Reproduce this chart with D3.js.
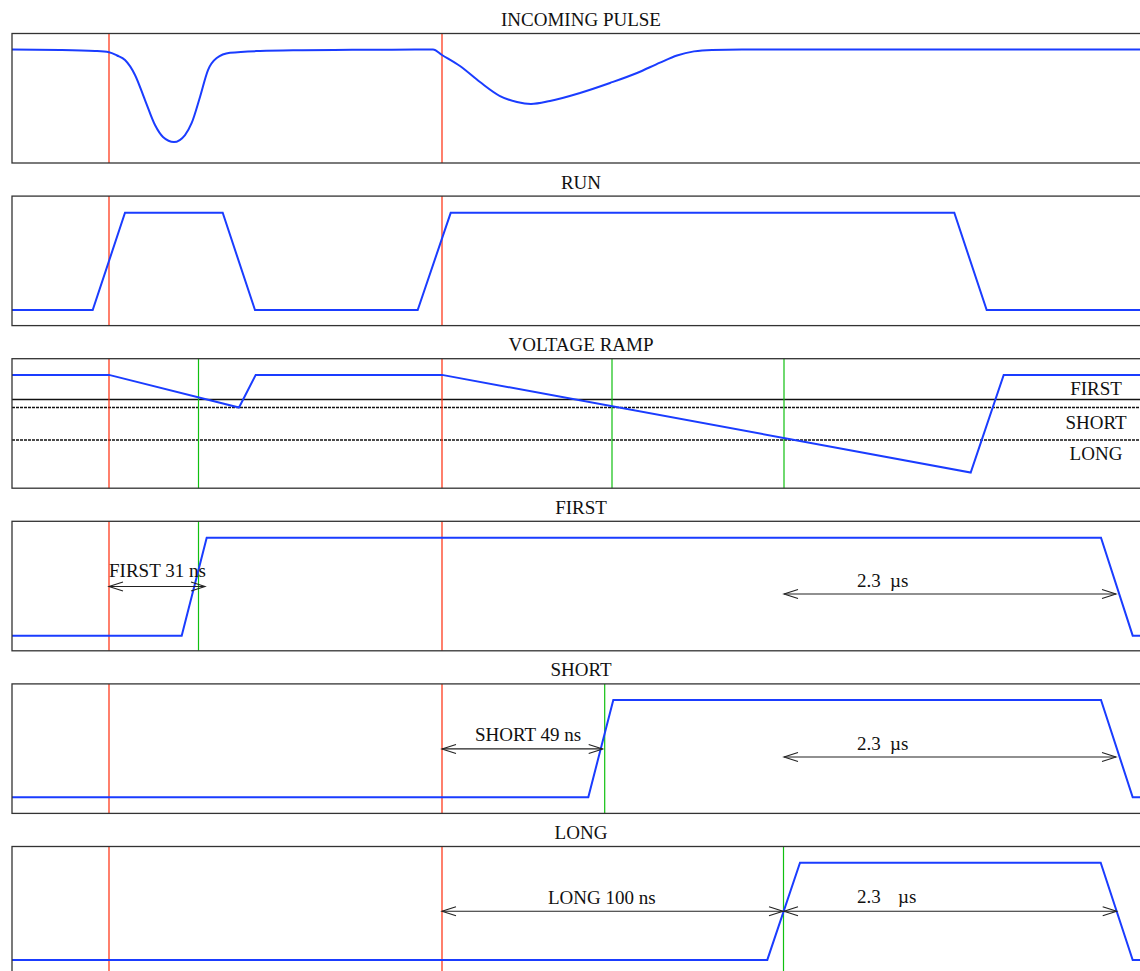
<!DOCTYPE html>
<html>
<head>
<meta charset="utf-8">
<script src="https://cdn.jsdelivr.net/npm/d3@7"></script>
<style>
  body { margin: 0; background: #fff; }
  svg { display: block; }
  text { font-family: "Liberation Serif", "Times New Roman", serif; fill: #111; }
</style>
</head>
<body>
<svg id="timing-svg"></svg>
<script>
const width = 1140;
const height = 971;

// Panel titles, top to bottom
const panelTitles = ["INCOMING PULSE", "RUN", "VOLTAGE RAMP", "FIRST", "SHORT", "LONG"];

// Time axis (arbitrary units) and signal levels (0 = panel bottom, 1 = panel top)
const pulseT = [0, 48, 83, 97, 105, 113, 123, 133, 143, 151, 162, 173, 179.7, 188, 196, 204.7, 218, 248, 290, 340, 380, 421,
  430, 448, 468, 488, 505, 519, 538, 568, 598, 625, 648, 665, 682, 700, 730, 800, 900, 1000, 1138];
const pulseV = [0.876, 0.873, 0.865, 0.855, 0.830, 0.795, 0.680, 0.486, 0.293, 0.201, 0.162, 0.216, 0.309, 0.510, 0.718, 0.811, 0.851, 0.865, 0.871, 0.874, 0.875, 0.876,
  0.834, 0.749, 0.625, 0.517, 0.471, 0.456, 0.479, 0.541, 0.618, 0.695, 0.775, 0.830, 0.862, 0.873, 0.876, 0.876, 0.876, 0.876, 0.876];

const runT = [0, 80.7, 113, 210.7, 243, 405.7, 438.7, 942.3, 974.7, 1138];
const runV = [0.12, 0.12, 0.871, 0.871, 0.12, 0.12, 0.871, 0.871, 0.12, 0.12];

const rampT = [0, 97, 227, 243.7, 430, 958.7, 991.7, 1138];
const rampV = [0.875, 0.875, 0.623, 0.875, 0.875, 0.121, 0.875, 0.875];

const firstT = [0, 169.7, 194.7, 1089, 1120.7, 1138];
const firstV = [0.117, 0.117, 0.873, 0.873, 0.117, 0.117];

const shortT = [0, 576.3, 601.3, 1089, 1120.7, 1138];
const shortV = [0.125, 0.125, 0.876, 0.876, 0.125, 0.125];

const longT = [0, 755.3, 788, 1088.7, 1120.7, 1138];
const longV = [0.124, 0.124, 0.875, 0.875, 0.124, 0.124];

// Discriminator thresholds on the voltage ramp
const thresholdNames = ["FIRST", "SHORT", "LONG"];
const thresholdV = [0.685, 0.623, 0.373];
const thresholdLabelV = [0.718, 0.456, 0.216];

// Pulse arrival markers (red) and threshold crossings (green) per panel
const pulseMarks = [97, 430];
const crossMarks = [[], [], [186.5, 600, 772], [186.5], [592.7], [771.5]];

// Measured intervals: panel, start, end, level, label
const intervals = [
  { panel: 3, t0: 97, t1: 193, v: 0.496, label: "FIRST 31 ns", lt: 97, lv: 0.568 },
  { panel: 3, t0: 772, t1: 1104, v: 0.439, label: "2.3|µs", lt: 845, lv: 0.493, gap: 33 },
  { panel: 4, t0: 430, t1: 590.7, v: 0.498, label: "SHORT 49 ns", lt: 463, lv: 0.56 },
  { panel: 4, t0: 772, t1: 1104, v: 0.436, label: "2.3|µs", lt: 845, lv: 0.49, gap: 33 },
  { panel: 5, t0: 430, t1: 771, v: 0.5, label: "LONG 100 ns", lt: 536, lv: 0.556 },
  { panel: 5, t0: 772, t1: 1104.7, v: 0.5, label: "2.3|µs", lt: 845, lv: 0.563, gap: 41 }
];

const signals = [
  { t: pulseT, v: pulseV, curve: d3.curveMonotoneX },
  { t: runT, v: runV, curve: d3.curveLinear },
  { t: rampT, v: rampV, curve: d3.curveLinear },
  { t: firstT, v: firstV, curve: d3.curveLinear },
  { t: shortT, v: shortV, curve: d3.curveLinear },
  { t: longT, v: longV, curve: d3.curveLinear }
];

const svg = d3.select("#timing-svg")
  .attr("width", width)
  .attr("height", height)
  .attr("viewBox", `0 0 ${width} ${height}`);

// Layout
const left = 12;
const right = 1150;
const firstTop = 33.5;
const panelStep = 162.6;
const panelHeight = 129.5;

const xScale = d3.scaleLinear().domain([0, 1138]).range([left, right]);

const blue = "#1a3cff";
const red = "#ff2a0a";
const green = "#10c010";

panelTitles.forEach((title, i) => {
  const top = firstTop + i * panelStep;
  const bottom = top + panelHeight;
  const yScale = d3.scaleLinear().domain([0, 1]).range([bottom, top]);

  const g = svg.append("g").attr("class", "panel");

  // Title
  g.append("text")
    .attr("x", (left + right) / 2)
    .attr("y", top - 7.5)
    .attr("text-anchor", "middle")
    .style("font-size", "19px")
    .text(title);

  // Threshold lines on the ramp panel
  if (i === 2) {
    thresholdV.forEach((v, k) => {
      g.append("line")
        .attr("x1", xScale(0)).attr("x2", xScale(1138))
        .attr("y1", yScale(v)).attr("y2", yScale(v))
        .attr("stroke", "#111")
        .attr("stroke-width", k === 0 ? 1.3 : 1.5)
        .attr("stroke-dasharray", k === 0 ? null : "3,1");
    });
    thresholdNames.forEach((name, k) => {
      g.append("text")
        .attr("x", xScale(1084))
        .attr("y", yScale(thresholdLabelV[k]))
        .attr("text-anchor", "middle")
        .style("font-size", "19px")
        .text(name);
    });
  }

  // Red pulse markers
  pulseMarks.forEach(t => {
    g.append("line")
      .attr("x1", xScale(t)).attr("x2", xScale(t))
      .attr("y1", top).attr("y2", bottom)
      .attr("stroke", red)
      .attr("stroke-width", 1.2);
  });

  // Green crossing markers
  crossMarks[i].forEach(t => {
    g.append("line")
      .attr("x1", xScale(t)).attr("x2", xScale(t))
      .attr("y1", top).attr("y2", bottom)
      .attr("stroke", green)
      .attr("stroke-width", 1.2);
  });

  // Signal trace
  const sig = signals[i];
  const pts = sig.t.map((t, k) => [t, sig.v[k]]);
  const line = d3.line()
    .x(d => xScale(d[0]))
    .y(d => yScale(d[1]))
    .curve(sig.curve);

  g.append("path")
    .datum(pts)
    .attr("fill", "none")
    .attr("stroke", blue)
    .attr("stroke-width", 2)
    .attr("stroke-linejoin", "miter")
    .attr("d", line);

  // Interval arrows
  intervals.filter(d => d.panel === i).forEach(d => {
    const x0 = xScale(d.t0);
    const x1 = xScale(d.t1);
    const y = yScale(d.v);
    g.append("line")
      .attr("x1", x0).attr("x2", x1)
      .attr("y1", y).attr("y2", y)
      .attr("stroke", "#222")
      .attr("stroke-width", 1.1);
    g.append("path")
      .attr("d", `M${x0 + 14},${y - 4.5}L${x0},${y}L${x0 + 14},${y + 4.5}`)
      .attr("fill", "none").attr("stroke", "#222").attr("stroke-width", 1.1);
    g.append("path")
      .attr("d", `M${x1 - 14},${y - 4.5}L${x1},${y}L${x1 - 14},${y + 4.5}`)
      .attr("fill", "none").attr("stroke", "#222").attr("stroke-width", 1.1);

    const parts = d.label.split("|");
    const lx = xScale(d.lt);
    const ly = yScale(d.lv);
    g.append("text")
      .attr("x", lx).attr("y", ly)
      .style("font-size", "19px")
      .text(parts[0]);
    if (parts.length > 1) {
      g.append("text")
        .attr("x", lx + d.gap).attr("y", ly)
        .style("font-size", "19px")
        .text(parts[1]);
    }
  });

  // Panel frame
  g.append("rect")
    .attr("x", left).attr("y", top)
    .attr("width", right - left).attr("height", panelHeight)
    .attr("fill", "none")
    .attr("stroke", "#333")
    .attr("stroke-width", 1.3);
});
</script>
</body>
</html>
